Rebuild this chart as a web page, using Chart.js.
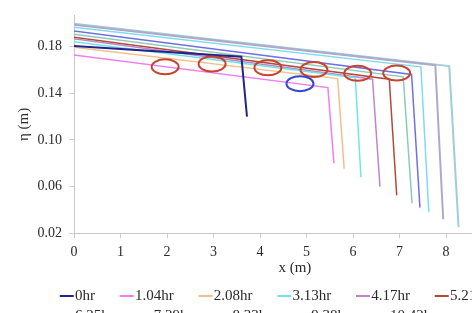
<!DOCTYPE html>
<html>
<head>
<meta charset="utf-8">
<script src="https://cdn.jsdelivr.net/npm/chart.js@4.4.1/dist/chart.umd.min.js"></script>
<style>
  html, body { margin: 0; padding: 0; overflow: hidden; background: #ffffff; }
  #wrap { position: relative; width: 540px; height: 340px; }
</style>
</head>
<body>
<div id="wrap"><canvas id="c" width="540" height="340"></canvas></div>
<script>
// ---- data ----
const seriesNames = ['0hr', '1.04hr', '2.08hr', '3.13hr', '4.17hr', '5.21hr', '6.25hr', '7.29hr', '8.33hr', '9.38hr', '10.42hr'];

const x0hr  = [0, 3.60, 3.72];            const y0hr  = [0.1805, 0.1712, 0.120];
const x1hr  = [0, 5.46, 5.59];            const y1hr  = [0.1728, 0.1448, 0.080];
const x2hr  = [0, 5.67, 5.81];            const y2hr  = [0.1794, 0.1525, 0.0754];
const x3hr  = [0, 6.05, 6.17];            const y3hr  = [0.1840, 0.1533, 0.068];
const x4hr  = [0, 6.42, 6.58];            const y4hr  = [0.1866, 0.1520, 0.060];
const x5hr  = [0, 6.78, 6.94];            const y5hr  = [0.1880, 0.1520, 0.0525];
const x6hr  = [0, 7.08, 7.27];            const y6hr  = [0.1906, 0.1540, 0.0458];
const x7hr  = [0, 7.26, 7.44];            const y7hr  = [0.1933, 0.1560, 0.042];
const x8hr  = [0, 7.46, 7.63];            const y8hr  = [0.1965, 0.1626, 0.038];
const x9hr  = [0, 7.77, 7.94];            const y9hr  = [0.1986, 0.1640, 0.032];
const x10hr = [0, 8.07, 8.27];            const y10hr = [0.1994, 0.1632, 0.0253];

const xTicks = [0, 1, 2, 3, 4, 5, 6, 7, 8];
const yTicks = [0.02, 0.06, 0.10, 0.14, 0.18];

// highlighted spots (ellipses) in data coordinates
const redMarkX = [1.96, 2.97, 4.17, 5.16, 6.10, 6.94];
const redMarkY = [0.1626, 0.1650, 0.1618, 0.1602, 0.1570, 0.1572];
const blueMarkX = [4.86];
const blueMarkY = [0.1482];

// ---- styles ----
const colors = ['#23238c', '#f07ef0', '#f3bf8c', '#6fe6e6', '#bf85c9', '#b3493b', '#8ccbb6', '#7070e6', '#7fdcef', '#b0a8cc', '#9fcfd4'];
const widths = [2, 1.5, 1.5, 1.5, 1.5, 1.5, 1.5, 1.5, 1.5, 2, 2];

const xsAll = [x0hr, x1hr, x2hr, x3hr, x4hr, x5hr, x6hr, x7hr, x8hr, x9hr, x10hr];
const ysAll = [y0hr, y1hr, y2hr, y3hr, y4hr, y5hr, y6hr, y7hr, y8hr, y9hr, y10hr];

function legendLine(color) {
  const c = document.createElement('canvas');
  c.width = 42; c.height = 2;
  const g = c.getContext('2d');
  g.fillStyle = color;
  g.fillRect(27, 0, 14, 2);
  return c;
}

const datasets = seriesNames.map((name, i) => ({
  label: name,
  data: xsAll[i].map((x, k) => ({x: x, y: ysAll[i][k]})),
  borderColor: colors[i],
  backgroundColor: colors[i],
  borderWidth: widths[i],
  pointRadius: 0,
  pointStyle: legendLine(colors[i]),
  tension: 0,
  fill: false
}));

const ellipsePlugin = {
  id: 'ellipses',
  afterDatasetsDraw(chart) {
    const {ctx, scales} = chart;
    const draw = (xs, ys, color) => {
      xs.forEach((x, i) => {
        const px = scales.x.getPixelForValue(x);
        const py = scales.y.getPixelForValue(ys[i]);
        ctx.save();
        ctx.beginPath();
        ctx.ellipse(px, py, 13.5, 7.5, 0, 0, Math.PI * 2);
        ctx.lineWidth = 2;
        ctx.strokeStyle = color;
        ctx.stroke();
        ctx.restore();
      });
    };
    draw(redMarkX, redMarkY, '#c8432f');
    draw(blueMarkX, blueMarkY, '#3047d6');
  }
};

Chart.defaults.font.family = "'Liberation Serif', 'Times New Roman', serif";
Chart.defaults.color = '#2a2a2a';

new Chart(document.getElementById('c'), {
  type: 'line',
  data: { datasets: datasets },
  plugins: [ellipsePlugin],
  options: {
    responsive: false,
    animation: false,
    devicePixelRatio: 1,
    layout: { padding: { left: 35, right: 24.25, top: 0, bottom: 6.5 } },
    plugins: {
      tooltip: { enabled: false },
      legend: {
        position: 'bottom',
        align: 'start',
        labels: {
          usePointStyle: true,
          pointStyleWidth: 27.5,
          padding: 5,
          color: '#2a2a2a',
          font: { size: 15 }
        }
      }
    },
    scales: {
      x: {
        type: 'linear',
        min: 0,
        max: 9.5,
        afterBuildTicks: (s) => { s.ticks = xTicks.map(v => ({value: v})); },
        afterFit: (s) => { s.height = 50.2; },
        grid: { drawOnChartArea: false, drawTicks: true, tickLength: 5, color: '#cfcfcf' },
        border: { color: '#c8c8c8', width: 1 },
        ticks: { padding: 6, font: { size: 14 }, color: '#2a2a2a', maxRotation: 0 },
        title: { display: true, text: 'x (m)', font: { size: 15 }, color: '#2a2a2a', padding: { top: 0, bottom: 6.8 } }
      },
      y: {
        type: 'linear',
        min: 0.02,
        max: 0.20664,
        afterBuildTicks: (s) => { s.ticks = yTicks.map(v => ({value: v})); },
        afterFit: (s) => { s.width = 39; },
        grid: { drawOnChartArea: false, drawTicks: true, tickLength: 5, color: '#cfcfcf' },
        border: { color: '#c8c8c8', width: 1 },
        ticks: { padding: 7, font: { size: 14 }, color: '#2a2a2a', callback: (v) => v.toFixed(2) },
        title: { display: true, text: 'η (m)', font: { size: 15 }, color: '#2a2a2a', padding: { top: -20.4, bottom: 0 } }
      }
    }
  }
});
</script>
</body>
</html>
